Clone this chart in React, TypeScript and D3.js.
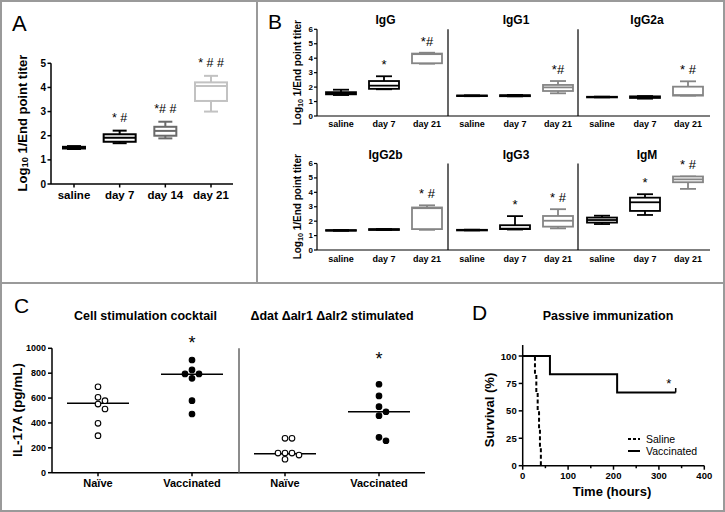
import React from "react";
import * as d3 from "d3";

const FONT = "'Liberation Sans', Arial, Helvetica, sans-serif";

// ---------- Panel A data ----------
const aCategories = ["saline", "day 7", "day 14", "day 21"];
// [min, q1, median, q3, max]
const aStats = [
  [1.45, 1.47, 1.5, 1.54, 1.57],
  [1.69, 1.75, 1.92, 2.06, 2.21],
  [1.89, 2.0, 2.2, 2.37, 2.58],
  [3.0, 3.44, 4.06, 4.21, 4.48],
];
const aMarks = ["", "* #", "*# #", "* # #"];
const aTicks = [0, 1, 2, 3, 4, 5];

// ---------- Panel B data ----------
const bCategories = ["saline", "day 7", "day 21"];
const bIsotypes = ["IgG", "IgG1", "IgG2a", "IgG2b", "IgG3", "IgM"];
const bIgG = [[1.45, 1.5, 1.58, 1.65, 1.82], [1.85, 1.88, 2.1, 2.42, 2.75], [3.62, 3.65, 4.28, 4.32, 4.38]];
const bIgG1 = [[1.37, 1.38, 1.4, 1.42, 1.43], [1.36, 1.37, 1.41, 1.44, 1.46], [1.57, 1.73, 1.98, 2.15, 2.42]];
const bIgG2a = [[1.29, 1.3, 1.31, 1.33, 1.34], [1.2, 1.25, 1.3, 1.36, 1.38], [1.41, 1.41, 1.45, 2.03, 2.4]];
const bIgG2b = [[1.33, 1.34, 1.36, 1.38, 1.39], [1.38, 1.39, 1.42, 1.45, 1.46], [1.4, 1.45, 2.9, 2.95, 3.1]];
const bIgG3 = [[1.36, 1.37, 1.38, 1.4, 1.41], [1.42, 1.45, 1.48, 1.72, 2.35], [1.5, 1.62, 2.03, 2.36, 2.83]];
const bIgM = [[1.8, 1.9, 2.08, 2.25, 2.38], [2.43, 2.71, 3.31, 3.63, 3.87], [4.24, 4.7, 4.9, 5.1, 5.1]];
const bStats = [bIgG, bIgG1, bIgG2a, bIgG2b, bIgG3, bIgM];
const bMarks = [["", "*", "*#"], ["", "", "*#"], ["", "", "* #"], ["", "", "* #"], ["", "*", "* #"], ["", "*", "* #"]];
const bTicks = [0, 1, 2, 3, 4, 5, 6];

// ---------- Panel C data ----------
const cGroups = ["Naïve", "Vaccinated"];
const cTitles = ["Cell stimulation cocktail", "Δdat Δalr1 Δalr2 stimulated"];
const cCocktailNaive = [691, 606, 579, 552, 512, 397, 298];
const cCocktailVacc = [906, 826, 794, 794, 759, 579, 472];
const cMutantNaive = [276, 276, 158, 158, 158, 142, 108];
const cMutantVacc = [711, 617, 531, 490, 458, 284, 257];
const cMedians = [[558, 791], [152, 490]];
const cSigLevel = [1065, 935];
const cTicks = [0, 200, 400, 600, 800, 1000];

// ---------- Panel D data ----------
const dTimesVacc = [0, 60, 208, 337];
const dSurvVacc = [100, 83.3, 66.7, 66.7];
const dTimesSaline = [0, 27, 30, 33, 36, 38, 40];
const dSurvSaline = [100, 83.3, 66.7, 50, 33.3, 16.7, 0];
const dXTicks = [0, 100, 200, 300, 400];
const dXMinor = [50, 150, 250, 350];
const dYTicks = [0, 25, 50, 75, 100];
const dSig = { t: 322, s: 77 };

// ---------- styles ----------
const aColors = ["#000", "#000", "#6a6a6a", "#c2c2c2"];
const aBoxW = [22, 32, 22, 32];
const bColors = ["#000", "#000", "#858585"];
const FRAME = "#9a9a9a";

type Scale = (v: number) => number;

function Box({ x, y, stats, w, cap, color, sw }: { x: number; y: Scale; stats: number[]; w: number; cap: number; color: string; sw: number }) {
  const [mn, q1, md, q3, mx] = stats;
  return (
    <g stroke={color} strokeWidth={sw} fill="none">
      <line x1={x} x2={x} y1={y(mx)} y2={y(q3)} />
      <line x1={x} x2={x} y1={y(q1)} y2={y(mn)} />
      <line x1={x - cap / 2} x2={x + cap / 2} y1={y(mx)} y2={y(mx)} />
      <line x1={x - cap / 2} x2={x + cap / 2} y1={y(mn)} y2={y(mn)} />
      <rect x={x - w / 2} y={y(q3)} width={w} height={Math.max(0.6, y(q1) - y(q3))} fill="white" />
      <line x1={x - w / 2} x2={x + w / 2} y1={y(md)} y2={y(md)} />
    </g>
  );
}

function LogLabel({ x, y, size }: { x: number; y: number; size: number }) {
  return (
    <text transform={`translate(${x},${y}) rotate(-90)`} textAnchor="middle" fontWeight="bold" fontSize={size} dominantBaseline="central">
      Log
      <tspan fontSize={size * 0.72} dy={size * 0.25}>10</tspan>
      <tspan dy={-size * 0.25}> 1/End point titer</tspan>
    </text>
  );
}

function beeswarm(values: number[], y: Scale, r: number): number[] {
  const idx = values.map((_, i) => i).sort((a, b) => values[b] - values[a]);
  const placed: { x: number; y: number }[] = [];
  const out: number[] = new Array(values.length).fill(0);
  const step = 3.5;
  const minD = 2 * r + 0.6;
  idx.forEach((i) => {
    const py = y(values[i]);
    const cands = [0];
    for (let k = 1; k < 12; k++) cands.push(k * step, -k * step);
    for (const c of cands) {
      if (placed.every((p) => Math.hypot(p.x - c, p.y - py) >= minD)) {
        out[i] = c;
        placed.push({ x: c, y: py });
        break;
      }
    }
  });
  return out;
}

export default function App() {
  // ---------- Panel A ----------
  const yA = d3.scaleLinear().domain([0, 5]).range([184, 63.3]);
  const xA = d3.scalePoint<string>().domain(aCategories).range([74, 211]);

  // ---------- Panel B ----------
  const bCols = [317, 448, 578, 710];
  const yB = [
    d3.scaleLinear().domain([0, 6]).range([116, 29.3]),
    d3.scaleLinear().domain([0, 6]).range([250, 163.5]),
  ];
  const bTitleY = [24, 159];
  const bLabelY = [127, 262];

  // ---------- Panel C ----------
  const yC = d3.scaleLinear().domain([0, 1000]).range([472.7, 348.3]);
  const cSubs = [52, 239, 425];
  const cData = [[cCocktailNaive, cCocktailVacc], [cMutantNaive, cMutantVacc]];
  const dotR = 2.8;

  // ---------- Panel D ----------
  const xD = d3.scaleLinear().domain([0, 400]).range([522.7, 704.3]);
  const yD = d3.scaleLinear().domain([0, 100]).range([465.7, 356]);
  const kmLine = d3.line<[number, number]>().x((d) => xD(d[0])).y((d) => yD(d[1])).curve(d3.curveStepAfter);
  const vaccPts: [number, number][] = dTimesVacc.map((t, i) => [t, dSurvVacc[i]]);
  const salPts: [number, number][] = dTimesSaline.map((t, i) => [t, dSurvSaline[i]]);

  return (
    <div style={{ position: "absolute", left: 0, top: 0 }}>
      <svg width={725} height={512} fontFamily={FONT} style={{ display: "block", background: "#fff" }}>
        <rect x={0} y={0} width={725} height={512} fill="#fff" />
        {/* frame */}
        <rect x={1} y={1} width={723} height={510} fill="none" stroke={FRAME} strokeWidth={2} />
        <line x1={257} x2={257} y1={0} y2={283} stroke={FRAME} strokeWidth={2} />
        <line x1={0} x2={725} y1={283} y2={283} stroke={FRAME} strokeWidth={2} />

        {/* ===== Panel A ===== */}
        <text x={12} y={31} fontSize={22}>A</text>
        <LogLabel x={22} y={123} size={13} />
        <g stroke="#000" strokeWidth={1.5}>
          <line x1={51} x2={51} y1={yA(0)} y2={yA(5)} />
          <line x1={51} x2={233} y1={yA(0)} y2={yA(0)} />
          {aTicks.map((t) => (
            <line key={t} x1={47.5} x2={51} y1={yA(t)} y2={yA(t)} />
          ))}
          {aCategories.map((c) => (
            <line key={c} x1={xA(c)!} x2={xA(c)!} y1={yA(0)} y2={yA(0) + 3.5} />
          ))}
        </g>
        {aTicks.map((t) => (
          <text key={t} x={46} y={yA(t)} textAnchor="end" dominantBaseline="central" fontSize={10} fontWeight="bold">{t}</text>
        ))}
        {aCategories.map((c) => (
          <text key={c} x={xA(c)!} y={199} textAnchor="middle" fontSize={11.5} fontWeight="bold">{c}</text>
        ))}
        {aStats.map((s, i) => (
          <Box key={i} x={xA(aCategories[i])!} y={yA} stats={s} w={aBoxW[i]} cap={14} color={aColors[i]} sw={2} />
        ))}
        {aMarks.map((m, i) => m && (
          <text key={i} x={xA(aCategories[i])!} y={yA(aStats[i][4]) - 9} textAnchor="middle" fontSize={12.5} style={{ whiteSpace: "pre" }}>{m}</text>
        ))}

        {/* ===== Panel B ===== */}
        <text x={268} y={29} fontSize={21}>B</text>
        {[0, 1].map((row) => {
          const y = yB[row];
          return (
            <g key={row}>
              <LogLabel x={297} y={(y(0) + y(6)) / 2} size={10} />
              <g stroke="#000" strokeWidth={1.2}>
                <line x1={317} x2={317} y1={y(0)} y2={y(6)} />
                <line x1={317} x2={710} y1={y(0)} y2={y(0)} />
                {bTicks.map((t) => (
                  <line key={t} x1={314} x2={317} y1={y(t)} y2={y(t)} />
                ))}
                <line x1={bCols[1]} x2={bCols[1]} y1={y(0)} y2={y(6)} />
                <line x1={bCols[2]} x2={bCols[2]} y1={y(0)} y2={y(6)} />
              </g>
              {bTicks.map((t) => (
                <text key={t} x={313} y={y(t)} textAnchor="end" dominantBaseline="central" fontSize={8} fontWeight="bold">{t}</text>
              ))}
            </g>
          );
        })}
        {bIsotypes.map((iso, i) => {
          const row = i < 3 ? 0 : 1;
          const col = i % 3;
          const x0 = bCols[col];
          const x1 = bCols[col + 1];
          const y = yB[row];
          const xs = d3.scalePoint<string>().domain(bCategories).range([x0 + 24, x0 + 110]);
          return (
            <g key={iso}>
              <text x={(x0 + x1) / 2 + 3} y={bTitleY[row]} textAnchor="middle" fontSize={12} fontWeight="bold">{iso}</text>
              {bCategories.map((c) => (
                <text key={c} x={xs(c)!} y={bLabelY[row]} textAnchor="middle" fontSize={9} fontWeight="bold">{c}</text>
              ))}
              {bStats[i].map((s, j) => (
                <Box key={j} x={xs(bCategories[j])!} y={y} stats={s} w={30} cap={16} color={bColors[j]} sw={1.8} />
              ))}
              {bMarks[i].map((m, j) => m && (
                <text key={j} x={xs(bCategories[j])!} y={y(bStats[i][j][4]) - 7} textAnchor="middle" fontSize={13} style={{ whiteSpace: "pre" }}>{m}</text>
              ))}
            </g>
          );
        })}

        {/* ===== Panel C ===== */}
        <text x={14} y={313} fontSize={21}>C</text>
        <text transform={`translate(17,410) rotate(-90)`} textAnchor="middle" dominantBaseline="central" fontSize={13.5} fontWeight="bold">IL-17A (pg/mL)</text>
        <g stroke="#000" strokeWidth={1.5}>
          <line x1={52} x2={52} y1={yC(0)} y2={yC(1000)} />
          <line x1={52} x2={425} y1={yC(0)} y2={yC(0)} />
          {cTicks.map((t) => (
            <line key={t} x1={48} x2={52} y1={yC(t)} y2={yC(t)} />
          ))}
        </g>
        <line x1={239} x2={239} y1={yC(0)} y2={yC(1000)} stroke="#666" strokeWidth={1.5} />
        {cTicks.map((t) => (
          <text key={t} x={46} y={yC(t)} textAnchor="end" dominantBaseline="central" fontSize={9} fontWeight="bold">{t}</text>
        ))}
        {cTitles.map((title, s) => {
          const x0 = cSubs[s];
          const x1 = cSubs[s + 1];
          const xs = d3.scalePoint<string>().domain(cGroups).range([x0 + 46, x0 + 140]);
          return (
            <g key={title}>
              <text x={(x0 + x1) / 2} y={320} textAnchor="middle" fontSize={12.5} fontWeight="bold">{title}</text>
              {cGroups.map((g, gi) => {
                const cx = xs(g)!;
                const vals = cData[s][gi];
                const offs = beeswarm(vals, yC, dotR);
                return (
                  <g key={g}>
                    <line x1={cx} x2={cx} y1={yC(0)} y2={yC(0) + 3.5} stroke="#000" strokeWidth={1.5} />
                    <text x={cx} y={487} textAnchor="middle" fontSize={11} fontWeight="bold">{g}</text>
                    <line x1={cx - 31} x2={cx + 31} y1={yC(cMedians[s][gi])} y2={yC(cMedians[s][gi])} stroke="#000" strokeWidth={1.5} />
                    {vals.map((v, k) => (
                      <circle key={k} cx={cx + offs[k]} cy={yC(v)} r={dotR}
                        fill={gi === 0 ? "#fff" : "#000"} stroke="#000" strokeWidth={1.1} />
                    ))}
                    {gi === 1 && (
                      <text x={cx} y={yC(cSigLevel[s]) + 9} textAnchor="middle" fontSize={18}>*</text>
                    )}
                  </g>
                );
              })}
            </g>
          );
        })}

        {/* ===== Panel D ===== */}
        <text x={472} y={320} fontSize={21}>D</text>
        <text x={608} y={320} textAnchor="middle" fontSize={12.5} fontWeight="bold">Passive immunization</text>
        <text transform={`translate(489,410) rotate(-90)`} textAnchor="middle" dominantBaseline="central" fontSize={13} fontWeight="bold">Survival (%)</text>
        <text x={612} y={496} textAnchor="middle" fontSize={13} fontWeight="bold">Time (hours)</text>
        <g stroke="#000" strokeWidth={1.5}>
          <line x1={xD(0)} x2={xD(0)} y1={yD(0)} y2={yD(110)} />
          <line x1={xD(0)} x2={xD(400)} y1={yD(0)} y2={yD(0)} />
          {dXTicks.map((t) => (
            <line key={t} x1={xD(t)} x2={xD(t)} y1={yD(0)} y2={yD(0) + 4} />
          ))}
          {dXMinor.map((t) => (
            <line key={t} x1={xD(t)} x2={xD(t)} y1={yD(0)} y2={yD(0) + 2.5} />
          ))}
          {dYTicks.map((t) => (
            <line key={t} x1={xD(0) - 4} x2={xD(0)} y1={yD(t)} y2={yD(t)} />
          ))}
        </g>
        {dXTicks.map((t) => (
          <text key={t} x={xD(t)} y={479} textAnchor="middle" fontSize={9.5} fontWeight="bold">{t}</text>
        ))}
        {dYTicks.map((t) => (
          <text key={t} x={xD(0) - 6} y={yD(t)} textAnchor="end" dominantBaseline="central" fontSize={9.5} fontWeight="bold">{t}</text>
        ))}
        <path d={kmLine(vaccPts)!} fill="none" stroke="#000" strokeWidth={2} />
        <line x1={xD(dTimesVacc[3])} x2={xD(dTimesVacc[3])} y1={yD(dSurvVacc[3])} y2={yD(dSurvVacc[3]) - 4.5} stroke="#000" strokeWidth={1.5} />
        <path d={kmLine(salPts)!} fill="none" stroke="#000" strokeWidth={2} strokeDasharray="4,2.5" />
        <text x={xD(dSig.t)} y={yD(dSig.s) + 7} textAnchor="middle" fontSize={13}>*</text>
        {/* legend */}
        <line x1={628} x2={640} y1={439} y2={439} stroke="#000" strokeWidth={1.8} strokeDasharray="3,2" />
        <text x={646} y={439} dominantBaseline="central" fontSize={10.5}>Saline</text>
        <line x1={628} x2={640} y1={451} y2={451} stroke="#000" strokeWidth={2} />
        <text x={646} y={451} dominantBaseline="central" fontSize={10.5}>Vaccinated</text>
      </svg>
    </div>
  );
}
